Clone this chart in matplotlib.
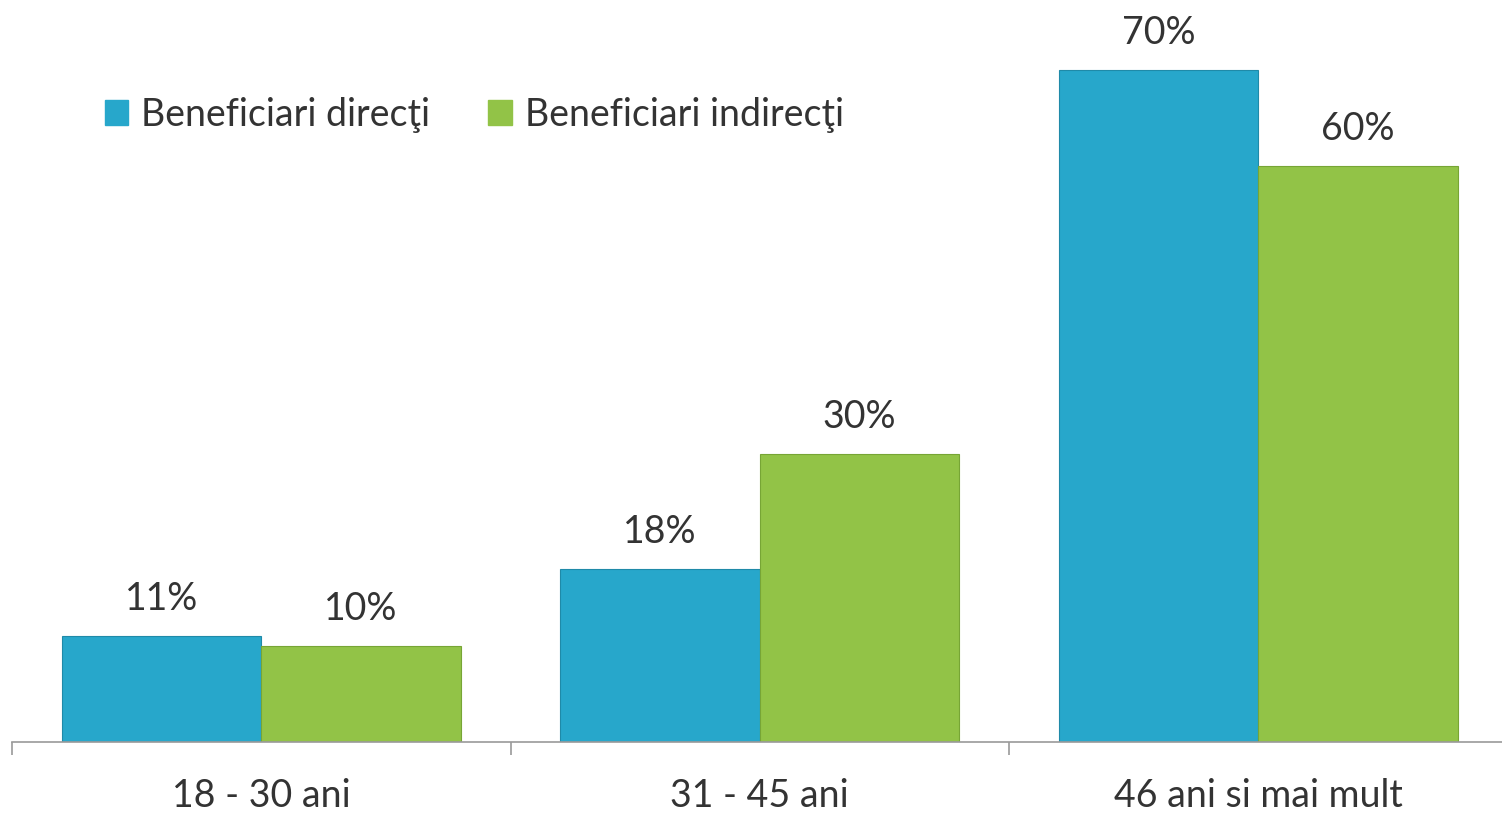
import matplotlib
matplotlib.use("Agg")
import matplotlib.pyplot as plt
import numpy as np
from matplotlib.patches import Patch

categories = ["18 - 30 ani", "31 - 45 ani", "46 ani si mai mult"]
series_names = ["Beneficiari direcţi", "Beneficiari indirecţi"]
direct = [11, 18, 70]
indirect = [10, 30, 60]
value_labels_direct = ["11%", "18%", "70%"]
value_labels_indirect = ["10%", "30%", "60%"]

blue = "#27A7CB"
green = "#92C347"
txt = "#333333"

plt.rcParams['font.family'] = ['Lato', 'DejaVu Sans']

W, H = 1502, 815
fig = plt.figure(figsize=(W / 100, H / 100), dpi=100)
unit = 498.5
ax = fig.add_axes([12 / W, 73 / H, 3 * unit / W, 742 / H])

x = np.arange(len(categories))
bw = 0.4
b1 = ax.bar(x - bw / 2, direct, bw, color=blue, edgecolor="#1f8aa8", linewidth=0.8)
b2 = ax.bar(x + bw / 2, indirect, bw, color=green, edgecolor="#77a535", linewidth=0.8)

fs = 27
for rect, lab in zip(b1, value_labels_direct):
    ax.annotate(lab, (rect.get_x() + rect.get_width() / 2, rect.get_height()),
                xytext=(0, 14), textcoords="offset points", ha="center", va="bottom",
                fontsize=fs, color=txt)
for rect, lab in zip(b2, value_labels_indirect):
    ax.annotate(lab, (rect.get_x() + rect.get_width() / 2, rect.get_height()),
                xytext=(0, 14), textcoords="offset points", ha="center", va="bottom",
                fontsize=fs, color=txt)

ax.set_xlim(-0.5, 2.5)
ax.set_ylim(0, 742 / 9.6)
ax.set_xticks(x)
ax.set_xticklabels(categories, fontsize=fs, color=txt)
ax.tick_params(axis="x", which="major", length=0, pad=26)
ax.set_xticks([-0.5, 0.5, 1.5, 2.5], minor=True)
ax.tick_params(axis="x", which="minor", length=9, width=1.2, color="#9a9a9a", direction="out")
ax.set_yticks([])
for s in ["top", "right", "left"]:
    ax.spines[s].set_visible(False)
ax.spines["bottom"].set_color("#9a9a9a")
ax.spines["bottom"].set_linewidth(1.2)

handles = [Patch(facecolor=blue, edgecolor=blue), Patch(facecolor=green, edgecolor=green)]
fig.legend(handles, series_names, loc="upper left", bbox_to_anchor=(71 / W, 1 - 63 / H),
           ncol=2, frameon=False, fontsize=fs, labelcolor=txt,
           handlelength=0.62, handleheight=0.62, handletextpad=0.35, columnspacing=1.55)

fig.savefig("out.png", dpi=100, facecolor="white")
